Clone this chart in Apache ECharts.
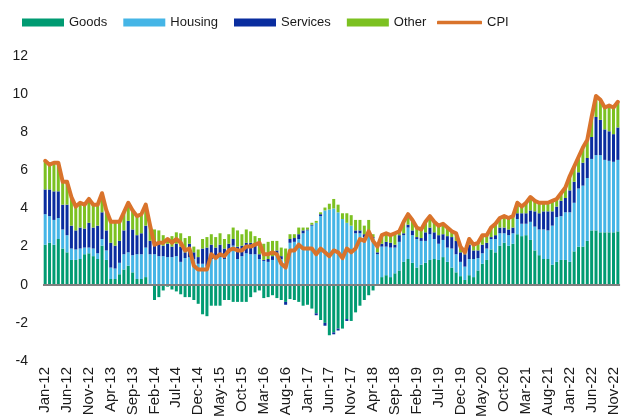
<!DOCTYPE html>
<html>
<head>
<meta charset="utf-8">
<script src="https://cdn.jsdelivr.net/npm/echarts@6/dist/echarts.min.js"></script>
<style>
  html, body { margin: 0; padding: 0; background: #fff; }
  #chart { width: 621px; height: 420px; }
</style>
</head>
<body>
<div id="chart"></div>
<script>
// month labels Jan-12 .. Dec-22
var monthNames = ['Jan','Feb','Mar','Apr','May','Jun','Jul','Aug','Sep','Oct','Nov','Dec'];
var years = ['12','13','14','15','16','17','18','19','20','21','22'];
var months = [];
years.forEach(function (y) {
    monthNames.forEach(function (m) { months.push(m + '-' + y); });
});

var goods = [
    2.1, 2.2, 2.1, 2.4, 1.9, 1.7, 1.3, 1.3, 1.35, 1.6, 1.65, 1.5,
    1.35, 2.05, 1.3, 0.3, 0.3, 0.55, 0.8, 1.0, 0.65, 0.3, 0.3, 0.4,
    0.05, -0.8, -0.65, -0.3, -0.1, -0.25, -0.35, -0.5, -0.65, -0.65, -0.8, -1.0,
    -1.55, -1.65, -1.1, -1.1, -1.1, -0.8, -0.8, -0.9, -0.9, -0.9, -0.9, -0.65,
    -0.4, -0.3, -0.7, -0.65, -0.55, -0.7, -0.8, -0.9, -0.75, -0.8, -0.9, -1.1,
    -1.05, -1.25, -1.5, -1.85, -2.0, -2.65, -2.5, -2.3, -2.3, -1.8, -1.9, -1.45,
    -1.1, -0.8, -0.55, -0.3, -0.05, 0.4, 0.5, 0.4, 0.6, 0.75, 1.2, 1.35,
    1.15, 0.9, 1.05, 1.15, 1.3, 1.35, 1.3, 1.45, 1.2, 0.9, 0.65, 0.45,
    0.25, 0.5, 0.4, 0.75, 1.1, 1.3, 1.85, 1.7, 2.05, 2.2, 2.05, 2.15,
    2.65, 2.55, 2.6, 2.35, 1.8, 1.55, 1.35, 1.35, 1.05, 1.2, 1.3, 1.3,
    1.2, 1.75, 2.0, 2.0, 2.3, 2.85, 2.85, 2.75, 2.75, 2.75, 2.75, 2.8
];
var housing = [
    1.6, 1.4, 1.3, 1.1, 1.0, 0.9, 0.6, 0.55, 0.55, 0.35, 0.3, 0.4,
    0.3, 0.35, 0.5, 0.6, 0.55, 0.6, 0.8, 0.7, 0.9, 1.3, 1.3, 1.55,
    1.55, 1.6, 1.5, 1.5, 1.45, 1.45, 1.5, 1.2, 1.4, 1.45, 1.35, 1.1,
    1.1, 0.95, 1.35, 1.35, 1.45, 1.35, 1.65, 2.05, 1.35, 1.5, 1.65, 1.6,
    1.6, 1.35, 1.25, 1.2, 1.3, 1.6, 1.35, 1.2, 2.2, 2.25, 2.4, 2.7,
    2.85, 3.1, 3.25, 3.6, 3.9, 3.95, 4.0, 3.8, 3.45, 3.25, 3.1, 2.7,
    2.7, 2.5, 2.55, 2.45, 1.6, 1.6, 1.5, 1.55, 1.35, 1.5, 1.4, 1.65,
    1.45, 1.5, 1.25, 1.15, 1.35, 1.05, 0.85, 0.9, 0.75, 1.0, 0.95, 0.75,
    0.7, 0.85, 0.95, 0.65, 0.55, 0.6, 0.55, 0.7, 0.65, 0.5, 0.55, 0.55,
    0.8, 0.65, 0.6, 0.95, 1.25, 1.35, 1.55, 1.5, 2.05, 2.35, 2.3, 2.5,
    2.6, 2.55, 3.05, 3.2, 3.3, 3.75, 3.95, 4.05, 3.8, 3.75, 3.7, 3.75
];
var services = [
    1.3, 1.4, 1.5, 1.4, 1.3, 1.6, 1.2, 1.0, 1.1, 1.0, 1.3, 1.1,
    1.45, 1.4, 1.05, 1.3, 1.2, 1.15, 1.25, 1.65, 1.35, 1.0, 1.1, 1.15,
    0.7, 0.7, 0.65, 0.55, 0.7, 0.55, 0.65, 0.8, 0.3, 0.7, 0.35, 0.35,
    0.8, 1.0, 0.75, 0.6, 0.65, 0.55, 0.5, 0.35, 0.65, 0.55, 0.55, 0.6,
    0.45, 0.25, 0.05, 0.15, 0.2, 0.2, 0.15, -0.15, 0.2, 0.2, 0.25, 0.15,
    0.05, 0.05, -0.1, 0.1, -0.15, 0.0, -0.1, -0.1, 0.0, -0.1, 0.0, 0.15,
    0.15, 0.15, 0.05, 0.05, 0.1, 0.15, 0.25, 0.25, 0.15, 0.35, 0.1, 0.15,
    0.25, 0.1, 0.15, 0.45, 0.35, 0.35, 0.45, 0.3, 0.6, 0.6, 0.7, 0.5,
    0.65, 0.75, 0.45, 0.4, 0.45, 0.3, 0.1, 0.2, 0.3, 0.3, 0.3, 0.3,
    0.3, 0.55, 0.55, 0.6, 0.8, 0.85, 0.95, 1.0, 0.75, 0.55, 0.8, 0.75,
    1.15, 1.1, 0.85, 1.2, 1.05, 1.15, 2.0, 1.85, 1.6, 1.55, 1.45, 1.7
];
var other = [
    1.5, 1.3, 1.5, 1.5, 1.2, 1.2, 1.5, 1.25, 1.3, 1.25, 1.25, 1.2,
    1.1, 1.0, 1.05, 1.1, 1.25, 1.0, 0.95, 0.95, 1.0, 1.0, 1.0, 1.1,
    0.8, 0.6, 0.7, 0.55, 0.3, 0.55, 0.6, 0.7, 0.75, 0.4, 0.3, 0.4,
    0.5, 0.55, 0.55, 0.55, 0.6, 0.5, 0.5, 0.6, 0.85, 0.6, 0.7, 0.6,
    0.5, 0.85, 0.85, 0.9, 0.8, 0.5, 0.45, 0.7, 0.25, 0.2, 0.35, 0.15,
    0.1, 0.1, 0.1, 0.1, 0.15, 0.3, 0.5, 0.4, 0.3, 0.5, 0.55, 0.55,
    0.55, 0.45, 0.8, 0.15, 0.45, 0.45, 0.45, 0.4, 0.6, 0.2, 0.6, 0.55,
    0.55, 0.5, 0.45, 0.55, 0.6, 0.55, 0.5, 0.55, 0.45, 0.3, 0.4, 0.3,
    0.1, 0.3, 0.3, 0.4, 0.5, 0.4, 0.5, 0.6, 0.5, 0.6, 0.6, 0.6,
    0.55, 0.35, 0.55, 0.7, 0.55, 0.55, 0.45, 0.45, 0.55, 0.4, 0.4, 0.55,
    0.75, 0.8, 0.8, 0.8, 0.95, 1.05, 1.1, 1.05, 1.15, 1.35, 1.4, 1.35
];
var cpi = [
    6.5, 6.3, 6.4, 6.4, 5.4, 5.4, 4.6, 4.1, 4.3, 4.2, 4.5, 4.2,
    4.2, 4.8, 3.9, 3.3, 3.3, 3.3, 3.8, 4.3, 3.9, 3.6, 3.7, 4.2,
    3.1, 2.1, 2.2, 2.2, 2.4, 2.2, 2.4, 2.2, 1.8, 1.9, 1.0, 0.8,
    0.8, 0.8, 1.6, 1.4, 1.6, 1.5, 1.8, 1.9, 1.8, 1.8, 2.0, 2.0,
    2.1, 2.2, 1.6, 1.6, 1.7, 1.6, 1.1, 0.9, 1.8, 1.8, 2.1, 1.9,
    1.9, 1.9, 1.6, 1.9, 1.7, 1.5, 1.8, 1.7, 1.4, 1.9, 1.7, 1.9,
    2.4, 2.3, 2.8, 2.3, 2.0, 2.6, 2.7, 2.6, 2.7, 2.8, 3.3, 3.7,
    3.4, 3.0, 2.9, 3.3, 3.6, 3.3, 3.1, 3.2, 3.0, 2.8, 2.7, 2.0,
    1.7, 2.4, 2.1, 2.2, 2.6, 2.6, 3.0, 3.2, 3.5, 3.6, 3.5, 3.6,
    4.3, 4.1, 4.3, 4.6, 4.4, 4.3, 4.3, 4.3, 4.4, 4.5, 4.8, 5.1,
    5.7, 6.2, 6.7, 7.2, 7.6, 8.8, 9.9, 9.7, 9.3, 9.4, 9.3, 9.6
];

var fontFam = 'Arial, "Liberation Sans", sans-serif';
var myChart = echarts.init(document.getElementById('chart'));

function barSeries(name, data, color) {
    return {
        name: name,
        type: 'bar',
        stack: 'total',
        data: data,
        barWidth: 3,
        itemStyle: { color: color }
    };
}

var goodsSeries = barSeries('Goods', goods, '#009B72');
goodsSeries.markLine = {
    silent: true,
    symbol: ['none', 'none'],
    label: { show: false },
    lineStyle: { color: '#7f7f7f', width: 2, type: 'solid' },
    data: [{ yAxis: 0 }]
};

var legendText = { fontSize: 13, color: '#1a1a1a', fontFamily: fontFam };

var option = {
    animation: false,
    backgroundColor: '#fff',
    legend: [{
        left: 22,
        top: 16,
        padding: 0,
        itemWidth: 42,
        itemHeight: 8,
        itemGap: 16,
        textStyle: legendText,
        data: [
            { name: 'Goods', icon: 'rect' },
            { name: 'Housing', icon: 'rect' },
            { name: 'Services', icon: 'rect' },
            { name: 'Other', icon: 'rect' }
        ]
    }, {
        left: 437,
        top: 16,
        padding: 0,
        itemWidth: 45,
        itemHeight: 3.5,
        textStyle: legendText,
        data: [{ name: 'CPI', icon: 'roundRect' }]
    }],
    grid: { left: 43, right: 0, top: 56, bottom: 57, containLabel: false },
    xAxis: {
        type: 'category',
        data: months,
        axisLine: { show: false },
        axisTick: { show: false },
        axisLabel: {
            rotate: 90,
            interval: 4,
            margin: 6,
            fontSize: 15,
            color: '#1a1a1a',
            fontFamily: fontFam
        }
    },
    yAxis: {
        type: 'value',
        min: -4,
        max: 12,
        interval: 2,
        splitLine: { show: false },
        axisLine: { show: false },
        axisTick: { show: false },
        axisLabel: { fontSize: 14, color: '#1a1a1a', margin: 15, fontFamily: fontFam }
    },
    series: [
        goodsSeries,
        barSeries('Housing', housing, '#45B5E6'),
        barSeries('Services', services, '#0A2D9F'),
        barSeries('Other', other, '#7CC121'),
        {
            name: 'CPI',
            type: 'line',
            data: cpi,
            symbol: 'none',
            z: 5,
            lineStyle: { color: '#D9732B', width: 4, cap: 'round', join: 'round' },
            itemStyle: { color: '#D9732B' }
        }
    ]
};

myChart.setOption(option);
</script>
</body>
</html>
